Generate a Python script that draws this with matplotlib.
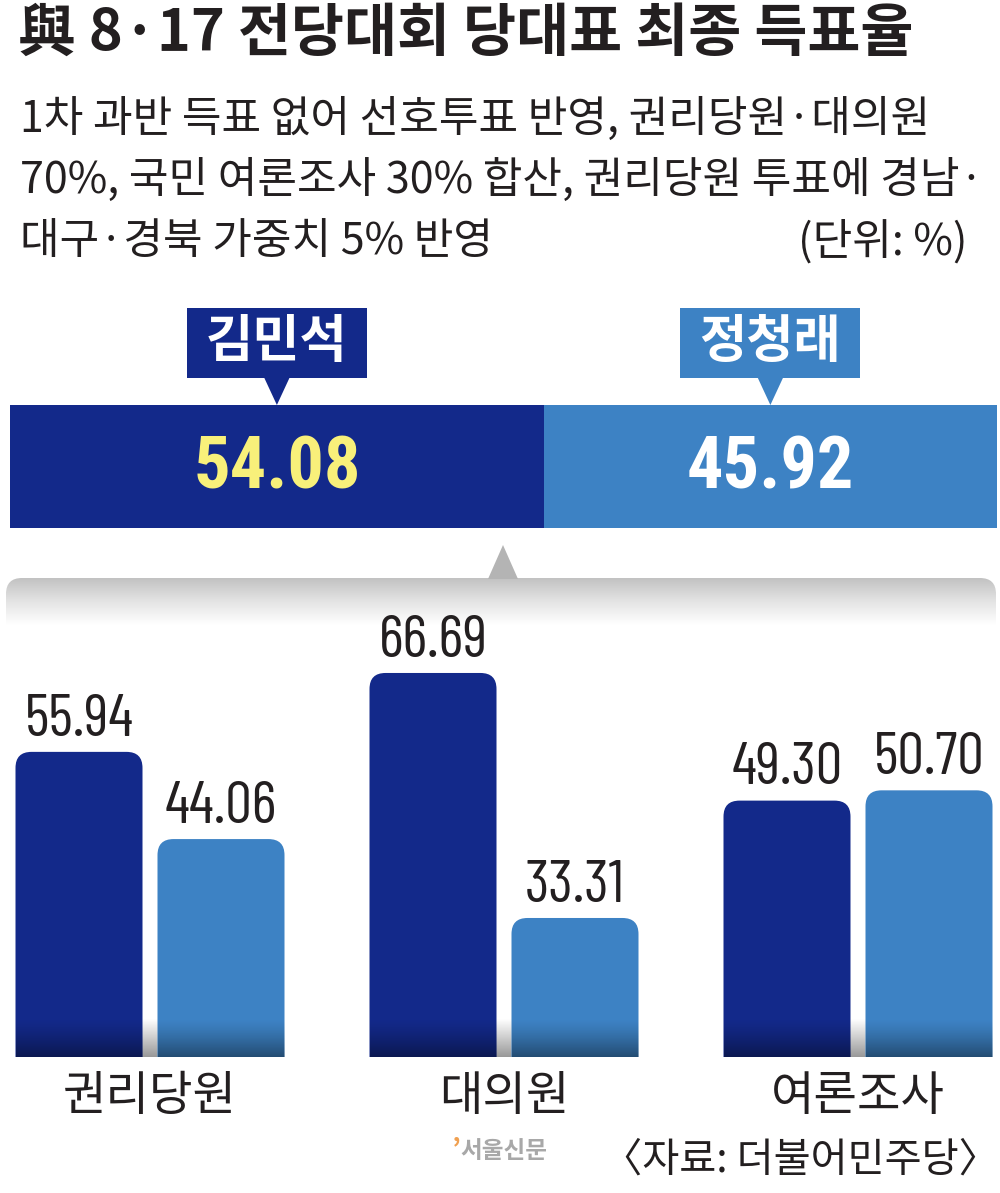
import matplotlib
matplotlib.use("Agg")
import matplotlib.pyplot as plt
import numpy as np
from matplotlib.patches import FancyBboxPatch, Polygon, Rectangle
from matplotlib import font_manager

# ---------------- data ----------------
title = "與 8·17 전당대회 당대표 최종 득표율"
subtitle_lines = ["1차 과반 득표 없어 선호투표 반영, 권리당원·대의원",
                  "70%, 국민 여론조사 30% 합산, 권리당원 투표에 경남·",
                  "대구·경북 가중치 5% 반영"]
unit_label = "(단위: %)"
candidates = ["김민석", "정청래"]
total_share = [54.08, 45.92]
categories = ["권리당원", "대의원", "여론조사"]
kim_values = [55.94, 66.69, 49.30]
jung_values = [44.06, 33.31, 50.70]
source = "〈자료: 더불어민주당〉"
logo = "서울신문"

# ---------------- style ----------------
DARK = "#13298A"
LIGHT = "#3D82C4"
YELLOW = "#F8F07A"
INK = "#231F20"

names = {f.name for f in font_manager.fontManager.ttflist}
def pick(prefs, default="DejaVu Sans"):
    for p in prefs:
        if p in names:
            return p
    return default
NUM_BOLD = [pick(["Roboto Condensed", "Archivo Narrow", "Fira Sans Condensed", "Liberation Sans"]), "DejaVu Sans"]
NUM_REG = [pick(["Barlow Condensed", "Fira Sans Extra Condensed", "Roboto Condensed", "Liberation Sans"]), "DejaVu Sans"]
KR = ["Noto Sans CJK KR", "DejaVu Sans"]

W, H = 1000, 1193
fig = plt.figure(figsize=(W / 100, H / 100), dpi=100)
fig.patch.set_facecolor("white")

# background axes in pixel coordinates (for decorations and text)
bg = fig.add_axes([0, 0, 1, 1])
bg.set_xlim(0, W)
bg.set_ylim(H, 0)
bg.axis("off")

def fy(px):
    return 1 - px / H

def to_bg_x(axx, xv):
    return bg.transData.inverted().transform(axx.transData.transform((xv, 0)))[0]

# ---------------- title & subtitle ----------------
bg.text(18, 34, title, family=KR, fontsize=41.5, fontweight="bold", color=INK,
        ha="left", va="center")
for i, line in enumerate(subtitle_lines):
    bg.text(20, 120 + i * 61, line, family=KR, fontsize=31.0, color=INK,
            ha="left", va="center")
bg.text(968, 242, unit_label, family=KR, fontsize=31.0, color=INK,
        ha="right", va="center")

# ---------------- top stacked bar ----------------
axt = fig.add_axes([10 / W, fy(528), 987 / W, 123 / H])
axt.set_xlim(0, sum(total_share))
axt.set_ylim(-0.5, 0.5)
axt.axis("off")
left = 0
cols = [DARK, LIGHT]
txtcols = [YELLOW, "white"]
for val, c, tc, name in zip(total_share, cols, txtcols, candidates):
    axt.barh(0, val, left=left, height=1.0, color=c, edgecolor="none")
    cx = left + val / 2
    axt.text(cx, -0.02, f"{val:.2f}", family=NUM_BOLD, fontsize=52, fontweight="bold",
             color=tc, ha="center", va="center")
    x_px = to_bg_x(axt, cx)
    bg.add_patch(Rectangle((x_px - 90, 308), 180, 70, color=c, zorder=3, lw=0))
    bg.add_patch(Polygon([[x_px - 13, 377], [x_px + 13, 377], [x_px, 405]],
                         closed=True, color=c, zorder=3, lw=0))
    bg.text(x_px, 342, name, family=KR, fontsize=37, fontweight="bold",
            color="white", ha="center", va="center", zorder=4)
    left += val

# ---------------- gray panel with pointer ----------------
grad = np.linspace(0, 1, 200).reshape(-1, 1)
gray_cmap = matplotlib.colors.LinearSegmentedColormap.from_list(
    "g", ["#c2c2c2", "#e4e4e4", "#ffffff"])
panel = FancyBboxPatch((6, 578), 990, 120, boxstyle="round,pad=0,rounding_size=16",
                       facecolor="none", edgecolor="none")
bg.add_patch(panel)
im = bg.imshow(grad, cmap=gray_cmap, extent=[6, 996, 625, 578], aspect="auto",
               interpolation="bilinear", zorder=1)
im.set_clip_path(panel)
bg.add_patch(Polygon([[488, 579], [518, 579], [503, 545]], closed=True,
                     color="#b4b4b4", zorder=1, lw=0))
bg.set_xlim(0, W)
bg.set_ylim(H, 0)

# ---------------- grouped bars ----------------
base_px, top_px = 1057, 578
px_per_unit = 7.34
y0 = 14.37
ax = fig.add_axes([0, fy(base_px), 1, (base_px - top_px) / H])
ax.axis("off")
ax.patch.set_alpha(0)

x = np.arange(len(categories))
bw = 127 / 354
off = 71 / 354
bars_k = ax.bar(x - off, kim_values, width=bw, color=DARK)
bars_j = ax.bar(x + off, jung_values, width=bw, color=LIGHT)

aspect = 354 / px_per_unit
shade = np.zeros((100, 1, 4))
shade[..., 3] = np.linspace(0, 0.42, 100).reshape(-1, 1) ** 1.3 / 0.42 ** 0.3
gapshade = np.ones((100, 1, 4))
gapshade[..., :3] = np.linspace(1.0, 0.6, 100).reshape(-1, 1, 1)
fade_units = 38 / px_per_unit

for xi in x:
    ax.imshow(gapshade, extent=[xi - off - bw / 2 + 0.01, xi + off + bw / 2 - 0.01, y0, y0 + fade_units],
              aspect="auto", interpolation="bilinear", zorder=0.5)

for bars, vals in ((bars_k, kim_values), (bars_j, jung_values)):
    for r, v in zip(bars, vals):
        bx, bwid, bh = r.get_x(), r.get_width(), r.get_height()
        col = r.get_facecolor()
        r.remove()
        p = FancyBboxPatch((bx, 0), bwid, bh,
                           boxstyle=f"round,pad=0,rounding_size={16 / 354}",
                           mutation_aspect=aspect, facecolor=col, edgecolor="none", zorder=2)
        ax.add_patch(p)
        sim = ax.imshow(shade, extent=[bx, bx + bwid, y0, y0 + fade_units],
                        aspect="auto", interpolation="bilinear", zorder=3)
        sim.set_clip_path(p)
        ax.annotate(f"{v:.2f}", (bx + bwid / 2, bh), xytext=(0, 3), textcoords="offset points",
                    ha="center", va="bottom", family=NUM_REG, fontsize=43,
                    fontweight="normal", color=INK)

ax.set_xlim(-150 / 354, (1000 - 150) / 354)
ax.set_ylim(y0, y0 + (base_px - top_px) / px_per_unit)

# category labels
for xi, cat in zip(x, categories):
    bg.text(to_bg_x(ax, xi), 1097, cat, family=KR, fontsize=34, color=INK,
            ha="center", va="center")

# ---------------- source & logo ----------------
bg.text(999, 1160, source, family=KR, fontsize=29, color=INK, ha="right", va="center")
bg.text(452, 1150, "’", family=KR, fontsize=20, fontweight="bold", color="#F0A050",
        ha="left", va="center")
bg.text(460, 1151, logo, family=KR, fontsize=17, fontweight="bold", color="#A8A8A8",
        ha="left", va="center")

fig.savefig("out.png", dpi=100, facecolor="white")
